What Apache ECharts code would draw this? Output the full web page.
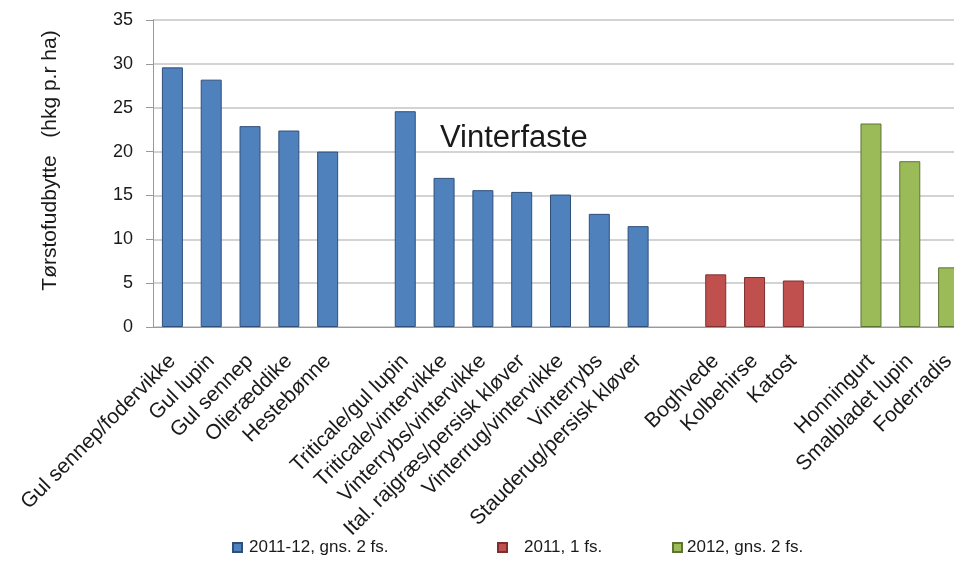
<!DOCTYPE html>
<html>
<head>
<meta charset="utf-8">
<title>Tørstofudbytte</title>
<script src="https://cdn.jsdelivr.net/npm/echarts@6/dist/echarts.min.js"></script>
<style>
  html, body { margin: 0; padding: 0; background: #fff; overflow: hidden; }
  /* plottet er skåret af i højre side i originalen, derfor bredere end vinduet */
  #chart { width: 968px; height: 564px; }
</style>
</head>
<body>
<div id="chart"></div>
<script>
// kategorier, '' = tom plads mellem grupperne
var categories = [
  'Gul sennep/fodervikke', 'Gul lupin', 'Gul sennep', 'Olieræddike', 'Hestebønne',
  '',
  'Triticale/gul lupin', 'Triticale/vintervikke', 'Vinterrybs/vintervikke',
  'Ital. rajgræs/persisk kløver', 'Vinterrug/vintervikke', 'Vinterrybs', 'Stauderug/persisk kløver',
  '',
  'Boghvede', 'Kolbehirse', 'Katost',
  '',
  'Honningurt', 'Smalbladet lupin', 'Foderradis'
]

var seriesNames = ['2011-12, gns. 2 fs.', '2011, 1 fs.', '2012, gns. 2 fs.']

var data2011_12 = [29.6, 28.2, 22.9, 22.4, 20.0, null, 24.6, 17.0, 15.6, 15.4, 15.1, 12.9, 11.5,
  null, null, null, null, null, null, null, null]
var data2011 = [null, null, null, null, null, null, null, null, null, null, null, null, null,
  null, 6.0, 5.7, 5.3, null, null, null, null]
var data2012 = [null, null, null, null, null, null, null, null, null, null, null, null, null,
  null, null, null, null, null, 23.2, 18.9, 6.8]

var yTicks = { min: 0, max: 35, interval: 5 }

var colors = ['#4F81BD', '#C0504D', '#9BBB59']
var borders = ['#2F4F7A', '#7E2F2D', '#5E7434']
var font = 'Liberation Sans, Arial, sans-serif'

var chart = echarts.init(document.getElementById('chart'))

function makeSeries(name, data, i) {
  return {
    name: name,
    type: 'bar',
    stack: 'all',
    data: data,
    barWidth: 21,
    itemStyle: {
      color: colors[i],
      borderColor: borders[i],
      borderWidth: 1
    },
    animation: false
  }
}

function makeLegend(i, left, pad) {
  return {
    data: [seriesNames[i]],
    left: left,
    top: 534,
    icon: 'rect',
    itemWidth: 9,
    itemHeight: 9,
    textStyle: {
      fontFamily: font,
      fontSize: 17,
      color: '#1a1a1a',
      padding: [0, 0, 0, pad]
    }
  }
}

chart.setOption({
  backgroundColor: '#fff',
  grid: {
    left: 153,
    right: 0,
    top: 20,
    bottom: 237
  },
  legend: [
    makeLegend(0, 227, 2),
    makeLegend(1, 492, 12),
    makeLegend(2, 667, 0)
  ],
  xAxis: {
    type: 'category',
    data: categories,
    axisLine: { lineStyle: { color: '#9a9a9a' } },
    axisTick: { show: false },
    axisLabel: {
      interval: 0,
      rotate: 45,
      margin: 31,
      fontFamily: font,
      fontSize: 21,
      color: '#1a1a1a'
    }
  },
  yAxis: {
    type: 'value',
    min: yTicks.min,
    max: yTicks.max,
    interval: yTicks.interval,
    name: 'Tørstofudbytte   (hkg p.r ha)',
    nameLocation: 'middle',
    nameGap: 92,
    nameTextStyle: {
      fontFamily: font,
      fontSize: 21,
      color: '#1a1a1a',
      padding: [0, 0, 0, 26]
    },
    axisLine: { show: true, lineStyle: { color: '#9a9a9a' } },
    axisTick: { show: true, length: 7, lineStyle: { color: '#9a9a9a' } },
    splitLine: { lineStyle: { color: '#c4c4c4', width: 1.5 } },
    axisLabel: {
      margin: 20,
      fontFamily: font,
      fontSize: 18,
      color: '#1a1a1a'
    }
  },
  graphic: [{
    type: 'text',
    left: 440,
    top: 123,
    style: {
      text: 'Vinterfaste',
      fontFamily: font,
      fontSize: 31,
      fill: '#1a1a1a'
    }
  }],
  series: [
    makeSeries(seriesNames[0], data2011_12, 0),
    makeSeries(seriesNames[1], data2011, 1),
    makeSeries(seriesNames[2], data2012, 2)
  ]
})
</script>
</body>
</html>
